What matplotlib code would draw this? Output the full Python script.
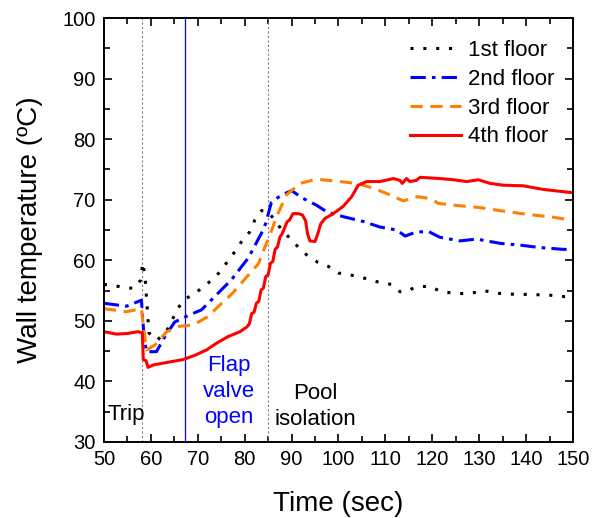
import matplotlib
matplotlib.use("Agg")
import matplotlib.pyplot as plt
from matplotlib.ticker import MultipleLocator

plt.rcParams['font.family'] = ['Liberation Sans', 'DejaVu Sans']

# 1st floor
t1 = [50, 51.8, 54.7, 56.6, 57.8, 58.3, 58.8, 59.6, 61.4, 63.5, 65.8, 67.3, 69.4, 71.3, 73.3,
      75.1, 76.5, 78.3, 79.5, 81.1, 82.2, 83.6, 84.7, 86.5, 87.9, 89.7, 91.4, 93.2, 95.5,
      97.8, 99.9, 103, 105.7, 108.5, 111.3, 113.1, 114.2, 116.6, 119.3, 122, 125.2, 128,
      130.9, 133.4, 135.8, 138.5, 141.4, 144.4, 147.4, 150]
T1 = [56.0, 55.9, 55.4, 55.4, 56.7, 59.6, 57.0, 48.0, 46.8, 48.5, 52.1, 53.6, 54.5, 55.7, 56.9,
      58.4, 60.0, 61.8, 63.3, 64.7, 66.7, 68.2, 68.2, 66.6, 65.0, 63.6, 62.2, 60.9, 59.7,
      59.0, 57.9, 57.5, 57.0, 56.4, 56.0, 54.8, 54.8, 55.6, 55.7, 54.8, 54.5, 54.5,
      55.0, 54.6, 54.4, 54.4, 54.3, 54.3, 54.0, 54.0]

# 2nd floor
t2 = [50, 54.8, 58.0, 58.6, 59.1, 61.2, 63.0, 65.1, 68.3, 70.8, 74.0, 77.2, 80.8, 83.6, 84.5,
      85.7, 87.9, 90.0, 92.5, 95.3, 97.5, 101, 105.3, 108.8, 112.4, 114.2, 116.7, 119.3,
      121.6, 125.9, 129.4, 134.4, 138.7, 142.9, 147.9, 150]
T2 = [52.9, 52.4, 53.4, 47.0, 44.9, 44.9, 47.4, 49.8, 51.0, 51.8, 54.3, 56.8, 60.4, 64.5, 66.1,
      69.6, 70.8, 71.5, 70.2, 69.1, 68.0, 67.2, 66.4, 65.5, 65.0, 64.0, 64.7, 64.7,
      63.8, 63.2, 63.5, 62.8, 62.5, 62.1, 61.8, 61.8]

# 3rd floor
t3 = [50, 54.8, 58.0, 58.6, 59.1, 60.9, 63.4, 66.2, 69.0, 72.2, 74.7, 77.5, 80.6, 83.0, 83.8,
      85.4, 86.8, 88.9, 91.8, 95.3, 100.3, 103.9, 107.4, 111.0, 113.8, 116.8, 119.5,
      121.3, 124.5, 130.2, 134.4, 140.1, 145.8, 150]
T3 = [52.0, 51.5, 52.0, 48.0, 45.2, 46.0, 48.2, 49.1, 49.3, 50.7, 52.6, 54.6, 57.4, 59.5, 61.2,
      64.2, 67.2, 70.8, 72.7, 73.4, 73.0, 72.7, 71.9, 70.8, 69.8, 70.5, 70.2,
      69.4, 69.1, 68.7, 68.2, 67.6, 67.1, 66.6]

# 4th floor
t4 = [50, 52.7, 55.0, 57.3, 58.2, 58.4, 59.0, 59.4, 60.5, 63.3, 66.9, 69.4, 71.9, 74.0, 76.5,
      79.0, 80.5, 81.0, 81.5, 82.0, 82.5, 83.0, 83.5, 84.0, 84.5, 85.0, 85.5, 86.0, 86.5, 87.0,
      87.5, 88.0, 88.5, 89.0, 89.6, 90.3, 91.4, 92.3, 93.0, 93.4, 93.9, 95.0, 95.6, 96.2,
      97.1, 98.9, 101.0, 102.8, 104.2, 106.0, 108.8, 111.7, 113.1, 113.6, 114.5,
      115.2, 116.6, 117.4, 121.6, 124.5, 127.3, 129.8, 132.3, 135.1, 139.4, 143.6, 149.4, 150]
T4 = [48.2, 47.8, 47.9, 48.2, 48.0, 43.6, 43.4, 42.3, 42.7, 43.1, 43.6, 44.3, 45.2, 46.3, 47.4,
      48.2, 49.0, 49.5, 51.2, 51.4, 52.9, 53.2, 55.1, 55.4, 57.3, 57.6, 59.5, 59.8, 61.8, 62.2,
      63.8, 64.4, 65.3, 66.3, 66.7, 67.7, 67.7, 67.5, 66.5, 64.4, 63.2, 63.1, 64.4, 66.0,
      66.9, 67.7, 68.9, 70.5, 72.4, 73.0, 73.0, 73.5, 73.2, 72.7, 73.5,
      73.0, 73.2, 73.7, 73.5, 73.3, 73.0, 73.3, 72.7, 72.4, 72.3, 71.7, 71.2, 71.2]

event_trip = 58.2
event_flap = 67.3
event_pool = 85.0

fig = plt.figure(figsize=(5.97, 5.18), dpi=100)
ax = fig.add_axes([0.174, 0.147, 0.786, 0.818])

ax.axvline(event_trip, color='gray', linestyle=(0, (2, 2)), lw=0.8)
ax.axvline(event_pool, color='gray', linestyle=(0, (2, 2)), lw=0.8)
ax.axvline(event_flap, color='blue', lw=0.9)

ax.plot(t1, T1, color='black', lw=2.2, linestyle=(0, (1, 3.2)), label='1st floor')
ax.plot(t2, T2, color='blue', lw=2.2, linestyle=(0, (5, 2, 1.2, 2)), label='2nd floor')
ax.plot(t3, T3, color='#ff8000', lw=2.2, linestyle=(0, (4, 2.5)), label='3rd floor')
ax.plot(t4, T4, color='red', lw=2.2, label='4th floor')

ax.text(50.8, 34.5, "Trip", fontsize=16, va='center', ha='left')
ax.text(76.6, 38.3, "Flap\nvalve\nopen", fontsize=16, color='blue', ha='center', va='center',
        linespacing=1.3)
ax.text(95, 35.8, "Pool\nisolation", fontsize=16, ha='center', va='center', linespacing=1.3)

ax.set_xlim(50, 150)
ax.set_ylim(30, 100)
ax.xaxis.set_major_locator(MultipleLocator(10))
ax.xaxis.set_minor_locator(MultipleLocator(5))
ax.yaxis.set_major_locator(MultipleLocator(10))
ax.yaxis.set_minor_locator(MultipleLocator(5))
ax.tick_params(which='both', direction='in', top=True, right=True, labelsize=14.5, width=1.2,
               pad=6)
ax.tick_params(which='major', length=6)
ax.tick_params(which='minor', length=4)
for s in ax.spines.values():
    s.set_linewidth(1.4)

ax.set_xlabel("Time (sec)", fontsize=20, labelpad=16)
ax.set_ylabel("Wall temperature (\u00baC)", fontsize=20, labelpad=14)

ax.legend(loc='upper right', frameon=False, fontsize=16, handlelength=2.3, handletextpad=0.3,
          labelspacing=0.35, borderaxespad=0.4, bbox_to_anchor=(0.998, 0.99))

fig.savefig("out.png", dpi=100)
